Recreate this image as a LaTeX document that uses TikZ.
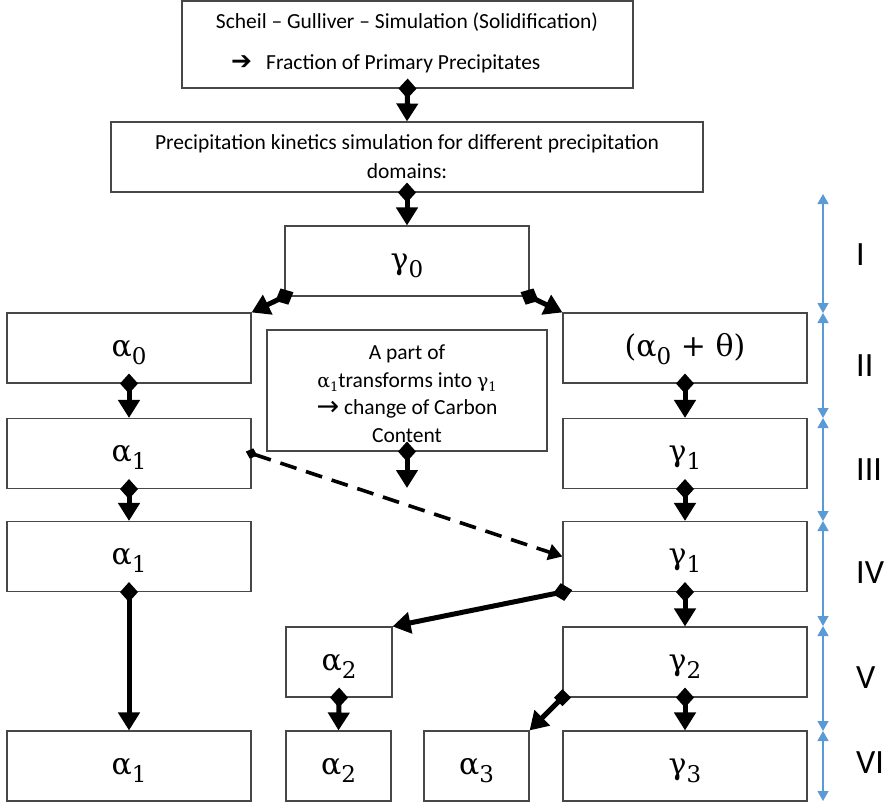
\documentclass[tikz,border=0pt]{standalone}
\usepackage{fontspec}
\setmainfont{Carlito}
\newfontfamily\gk{DejaVu Serif}
\newfontfamily\sym{DejaVu Sans}
\usetikzlibrary{arrows.meta}
\newcommand\GS[2]{{\fontsize{30}{34}\gk #1}\raisebox{-8pt}{\fontsize{23}{26}\gk #2}}
\newcommand\gsm[2]{{\fontsize{19}{24}\gk #1}\raisebox{-4pt}{\fontsize{13}{16}\gk #2}}
\definecolor{axblue}{HTML}{5B9BD5}
\tikzset{
  box/.style={draw=black!72, line width=1.1pt, inner sep=0pt, minimum width=244pt, minimum height=70pt,
    font=\fontsize{21.5}{29}\selectfont, align=center},
  gbox/.style={box, text height=16pt, text depth=0pt},
  txt/.style={inner sep=0pt, font=\fontsize{21.5}{28}\selectfont, align=center},
  conn/.style={line width=5pt, {Diamond[length=20pt,width=18pt]}-{Triangle[length=18pt,width=21pt]}, shorten <=-10pt},
  dconn/.style={line width=3.6pt, dash pattern=on 17pt off 10pt, {Diamond[length=12pt,width=11pt]}-{Triangle[length=14pt,width=16pt]}, shorten <=-6pt},
  sconn/.style={line width=5pt, {Square[length=12pt,width=12pt]}-{Triangle[length=18pt,width=21pt]}, shorten <=-6pt},
  axis/.style={draw=axblue, line width=1.3pt, {Triangle[length=10pt,width=11pt]}-{Triangle[length=10pt,width=11pt]}},
  axlab/.style={inner sep=0pt, anchor=west, font=\fontsize{34}{36}\selectfont}
}
\begin{document}
\begin{tikzpicture}[x=1pt,y=-1pt]
\useasboundingbox (0,0) rectangle (890,803);
% top boxes
\node[box, minimum width=451pt, minimum height=87pt] (scheil) at (407.5,44.5) {};
\node[txt] (t1) at (407,22) {Scheil – Gulliver – Simulation (Solidification)};
\node[txt, anchor=west] (t2a) at (231,63) {\fontsize{25}{26}\sym ➔};
\node[txt, anchor=west] (t2) at (266,64) {Fraction of Primary Precipitates};
\node[box, minimum width=592pt, minimum height=70pt] (prec) at (407,157)
  {Precipitation kinetics simulation for different precipitation\\domains:};
\node[gbox] (g0) at (407,261) {\GS{γ}{0}};
% row II
\node[gbox] (a0) at (129,348) {\GS{α}{0}};
\node[box, minimum width=280pt, minimum height=121pt] (mid) at (407,390.5) {};
\node[txt, font=\fontsize{21.5}{27.5}\selectfont] (midtxt) at (407,393.5)
  {A part of\\ \gsm{α}{1}transforms into \gsm{γ}{1}\\ \raisebox{-1pt}{\sym\fontsize{27}{22}\selectfont →} change of Carbon\\ Content};
\node[gbox] (a0t) at (685,348) {{\fontsize{30}{34}\gk (α}\raisebox{-8pt}{\fontsize{23}{26}\gk 0}{\fontsize{30}{34}\gk\ + θ)}};
% row III
\node[gbox] (a1) at (129,453.5) {\GS{α}{1}};
\node[gbox] (g1) at (685,453.5) {\GS{γ}{1}};
% row IV
\node[gbox] (a1b) at (129,556.5) {\GS{α}{1}};
\node[gbox] (g1b) at (685,556.5) {\GS{γ}{1}};
% row V
\node[gbox, minimum width=106pt] (a2) at (339,662) {\GS{α}{2}};
\node[gbox] (g2) at (685,662) {\GS{γ}{2}};
% row VI
\node[gbox] (a1c) at (129,766) {\GS{α}{1}};
\node[gbox, minimum width=105pt] (a2b) at (338.5,766) {\GS{α}{2}};
\node[gbox, minimum width=105pt] (a3) at (476.5,766) {\GS{α}{3}};
\node[gbox] (g3) at (685,766) {\GS{γ}{3}};
\coordinate (midend) at (407,488);
% connectors
\draw[conn] (scheil.south) -- (prec.north);
\draw[conn] (prec.south) -- (g0.north);
\draw[conn] (g0.south west) -- (a0.north east);
\draw[conn] (g0.south east) -- (a0t.north west);
\draw[conn] (a0.south) -- (a1.north);
\draw[conn] (a0t.south) -- (g1.north);
\draw[conn] (mid.south) -- (midend);
\draw[dconn] (a1.east) -- (g1b.west);
\draw[conn] (a1.south) -- (a1b.north);
\draw[conn] (g1.south) -- (g1b.north);
\draw[conn] (a1b.south) -- (a1c.north);
\draw[conn] (g1b.south west) -- (a2.north east);
\draw[conn] (g1b.south) -- (g2.north);
\draw[conn] (a2.south) -- (a2b.north);
\draw[sconn] (g2.south west) -- (a3.north east);
\draw[conn] (g2.south) -- (g3.north);
% axis
\coordinate (ax0) at (823,194);
\coordinate (ax1) at (823,313);
\coordinate (ax2) at (823,418);
\coordinate (ax3) at (823,521);
\coordinate (ax4) at (823,626);
\coordinate (ax5) at (823,731);
\coordinate (ax6) at (823,801);
\draw[axis] (ax0) -- (ax1);
\draw[axis] (ax1) -- (ax2);
\draw[axis] (ax2) -- (ax3);
\draw[axis] (ax3) -- (ax4);
\draw[axis] (ax4) -- (ax5);
\draw[axis] (ax5) -- (ax6);
\node[axlab] (l1) at (856,255) {I};
\node[axlab] (l2) at (856,365.5) {II};
\node[axlab] (l3) at (856,469.5) {III};
\node[axlab] (l4) at (856,573) {IV};
\node[axlab] (l5) at (856,678) {V};
\node[axlab] (l6) at (856,763) {VI};
\end{tikzpicture}
\end{document}
